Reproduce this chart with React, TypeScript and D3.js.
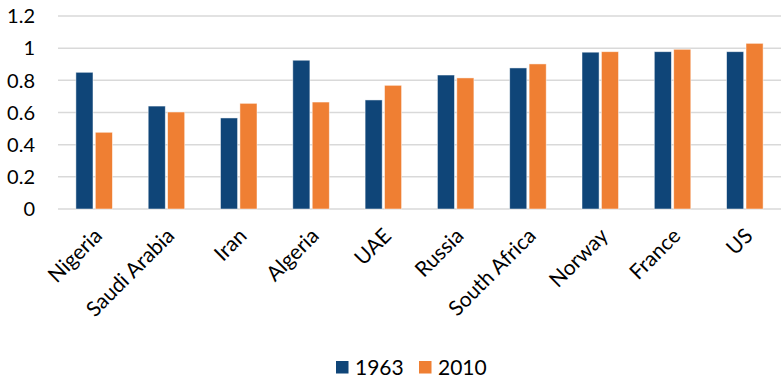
import React from "react";
import * as d3 from "d3";

const categories = [
  "Nigeria",
  "Saudi Arabia",
  "Iran",
  "Algeria",
  "UAE",
  "Russia",
  "South Africa",
  "Norway",
  "France",
  "US",
];
const values1963 = [0.85, 0.64, 0.566, 0.925, 0.678, 0.833, 0.877, 0.975, 0.978, 0.978];
const values2010 = [0.477, 0.603, 0.657, 0.665, 0.769, 0.815, 0.902, 0.978, 0.993, 1.03];
const seriesNames = ["1963", "2010"];
const yTicks = [0, 0.2, 0.4, 0.6, 0.8, 1, 1.2];

const W = 784;
const H = 381;
const FONT = "Lato, 'Open Sans', sans-serif";
const COLORS = ["#0f4578", "#ef7f33"];

export default function App() {
  const left = 58;
  const right = 781;
  const y = d3.scaleLinear().domain([0, 1.2]).range([209, 16]);
  const x = d3.scaleBand<string>().domain(categories).range([left, right]);
  const inner = d3
    .scaleBand<string>()
    .domain(seriesNames)
    .range([0, 36.5])
    .paddingInner(0.12);
  const groupOffset = (x.bandwidth() - 36.5) / 2;
  const series = [values1963, values2010];

  return (
    <svg
      width={W}
      height={H}
      style={{ position: "absolute", left: 0, top: 0, background: "#fff" }}
      fontFamily={FONT}
    >
      {/* gridlines */}
      {yTicks.map((t) => (
        <line
          key={t}
          x1={left}
          x2={right}
          y1={y(t)}
          y2={y(t)}
          stroke="#d9d9d9"
          strokeWidth={1.5}
        />
      ))}
      {/* y tick labels */}
      {yTicks.map((t) => (
        <text
          key={"l" + t}
          x={35}
          y={y(t)}
          dy="0.36em"
          textAnchor="end"
          fontSize={20}
          fill="#000"
        >
          {d3.format("~g")(t)}
        </text>
      ))}
      {/* bars */}
      {categories.map((c, i) => (
        <g key={c} transform={`translate(${(x(c) ?? 0) + groupOffset},0)`}>
          {series.map((vals, s) => (
            <rect
              key={s}
              x={inner(seriesNames[s])}
              y={y(vals[i])}
              width={inner.bandwidth()}
              height={y(0) - y(vals[i])}
              fill={COLORS[s]}
              stroke="#ffffff"
              strokeOpacity={0.6}
              strokeWidth={0.8}
            />
          ))}
        </g>
      ))}
      {/* category labels */}
      {categories.map((c) => {
        const cx = (x(c) ?? 0) + x.bandwidth() / 2 + 4;
        return (
          <text
            key={"c" + c}
            transform={`translate(${cx},232) rotate(-45)`}
            textAnchor="end"
            dy="0.35em"
            fontSize={21}
            fill="#000"
          >
            {c}
          </text>
        );
      })}
      {/* legend */}
      {seriesNames.map((n, s) => {
        const lx = 336 + s * 83;
        return (
          <g key={"lg" + n}>
            <rect x={lx} y={361} width={12.5} height={12.5} fill={COLORS[s]} />
            <text x={lx + 19} y={367.5} dy="0.36em" fontSize={21} fill="#000">
              {n}
            </text>
          </g>
        );
      })}
    </svg>
  );
}
